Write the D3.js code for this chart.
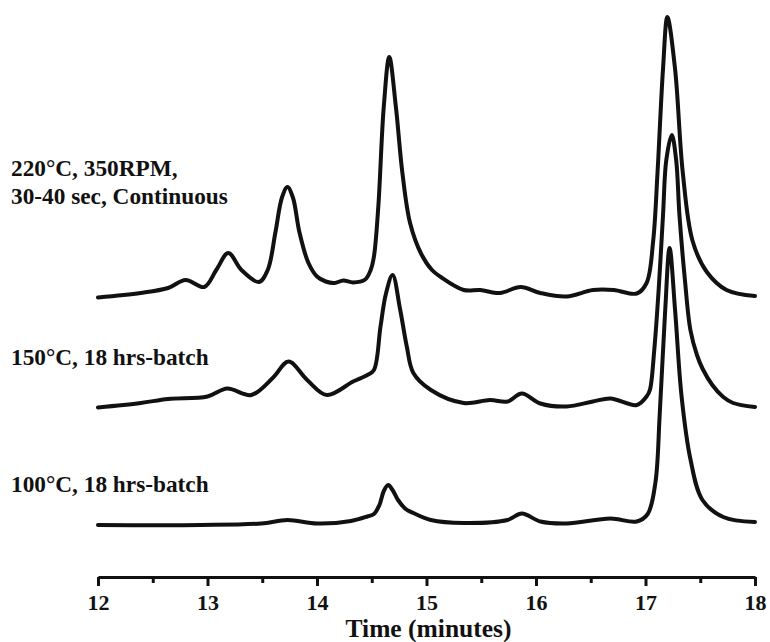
<!DOCTYPE html>
<html>
<head>
<meta charset="utf-8">
<script src="https://cdn.jsdelivr.net/npm/d3@7"></script>
<style>
  html, body { margin: 0; padding: 0; background: #fff; }
  svg { display: block; }
  text { font-family: "Liberation Serif", "Times New Roman", serif; font-weight: bold; fill: #111; }
</style>
</head>
<body>
<svg id="chart" width="770" height="642"></svg>
<script>
// Chromatogram traces, retention time (min) vs detector response (arbitrary units)
const timeTicks = [12, 13, 14, 15, 16, 17, 18];
const minorTicks = [12.5, 13.5, 14.5, 15.5, 16.5, 17.5];
const axisTitle = "Time (minutes)";

const sampleLabels = [
  ["220°C, 350RPM,", "30-40 sec, Continuous"],
  ["150°C, 18 hrs-batch"],
  ["100°C, 18 hrs-batch"]
];

// vertical stacking offset for each trace
const baselineOffsets = [55.9, 33.9, 10.4];

const continuous220 = [
  [12.00, 0], [12.39, 0.9], [12.64, 1.9], [12.80, 3.5], [12.97, 2.1],
  [13.08, 5.5], [13.19, 8.9], [13.31, 5.5], [13.47, 3.1], [13.55, 5.5],
  [13.62, 13], [13.68, 20], [13.73, 22.1], [13.78, 20], [13.84, 13],
  [13.92, 7], [14.00, 4.2], [14.08, 3.2], [14.16, 2.9], [14.24, 3.4],
  [14.33, 3.0], [14.44, 3.6], [14.49, 5.5], [14.52, 8.2], [14.56, 18.2],
  [14.61, 38.2], [14.66, 48.1], [14.72, 38.2], [14.78, 24.9], [14.85, 14.9],
  [14.95, 8.8], [15.05, 5.5], [15.13, 4.1], [15.34, 1.5], [15.49, 1.5],
  [15.67, 0.9], [15.86, 2.1], [16.04, 0.9], [16.28, 0.2], [16.52, 1.5],
  [16.71, 1.5], [16.92, 0.8], [17.01, 2.9], [17.07, 11.3], [17.11, 25.1],
  [17.16, 45.7], [17.20, 56.1], [17.27, 45.7], [17.34, 25.1], [17.43, 11.3],
  [17.56, 5.1], [17.74, 1.5], [18.00, 0.3]
];

const batch150 = [
  [12.00, 0], [12.39, 0.9], [12.64, 1.7], [13.00, 2.2], [13.18, 3.8],
  [13.40, 2.5], [13.60, 6.0], [13.74, 9.2], [13.91, 5.5], [14.09, 2.5],
  [14.33, 5.2], [14.46, 6.5], [14.52, 7.5], [14.58, 16.2], [14.63, 22.8],
  [14.69, 26.5], [14.76, 19.5], [14.82, 12.2], [14.88, 6.9], [15.04, 3.5],
  [15.34, 0.9], [15.58, 1.5], [15.74, 1.2], [15.87, 2.8], [16.04, 0.8],
  [16.28, 0.2], [16.52, 1.2], [16.68, 1.8], [16.92, 0.5], [17.01, 2.2],
  [17.04, 3.5], [17.08, 11.5], [17.12, 23.5], [17.16, 38.5], [17.19, 49.5],
  [17.24, 54.5], [17.28, 49.5], [17.31, 38.5], [17.36, 25.5], [17.41, 15.5],
  [17.47, 10.5], [17.52, 7.8], [17.61, 4.5], [17.71, 2.1], [17.80, 0.9],
  [18.00, 0.1]
];

const batch100 = [
  [12.00, 0], [12.94, 0], [13.49, 0.3], [13.73, 1.0], [14.00, 0.3],
  [14.31, 0.8], [14.46, 1.7], [14.52, 2.2], [14.57, 4.0], [14.61, 6.8],
  [14.65, 8.0], [14.69, 7.0], [14.74, 5.0], [14.81, 3.2], [14.88, 2.4],
  [15.04, 1.0], [15.34, 0.4], [15.74, 1.0], [15.87, 2.3], [16.04, 0.7],
  [16.28, 0.3], [16.68, 1.3], [16.92, 0.7], [17.02, 2.2], [17.09, 8.4],
  [17.13, 22.2], [17.18, 43], [17.22, 55.4], [17.27, 43], [17.33, 25.6],
  [17.41, 13.2], [17.52, 5.0], [17.71, 1.6], [18.00, 0.6]
];

const traces = [continuous220, batch150, batch100];

const svg = d3.select("#chart");

const x = d3.scaleLinear().domain([12, 18]).range([98, 755]);
const y = d3.scaleLinear().domain([0, 115]).range([577, 2]);

const line = d3.line()
  .x(d => x(d[0]))
  .y(d => y(d[1]))
  .curve(d3.curveCatmullRom.alpha(0.5));

// traces
svg.append("g")
  .selectAll("path")
  .data(traces)
  .join("path")
  .attr("d", (d, i) => line(d.map(p => [p[0], p[1] + baselineOffsets[i]])))
  .attr("fill", "none")
  .attr("stroke", "#111")
  .attr("stroke-width", 4)
  .attr("stroke-linejoin", "round")
  .attr("stroke-linecap", "round");

// sample labels
const labelBaselines = [[176, 204], [365], [492]];
sampleLabels.forEach((lines, i) => {
  lines.forEach((txt, j) => {
    svg.append("text")
      .attr("x", 11)
      .attr("y", labelBaselines[i][j])
      .attr("font-size", 23.3)
      .text(txt);
  });
});

// x axis
const axisY = y(0);
const axisG = svg.append("g")
  .attr("transform", `translate(0,${axisY})`)
  .call(d3.axisBottom(x).tickValues(timeTicks).tickFormat(d3.format("d"))
    .tickSize(9).tickSizeOuter(0).tickPadding(8));
axisG.select(".domain").attr("stroke", "#111").attr("stroke-width", 3);
axisG.selectAll(".tick line").attr("stroke", "#111").attr("stroke-width", 3);
axisG.selectAll(".tick text")
  .attr("font-size", 22)
  .attr("font-family", "Liberation Serif, Times New Roman, serif")
  .attr("font-weight", "bold")
  .attr("fill", "#111");

const minorG = svg.append("g")
  .attr("transform", `translate(0,${axisY})`)
  .call(d3.axisBottom(x).tickValues(minorTicks).tickSize(6).tickSizeOuter(0).tickFormat(""));
minorG.select(".domain").remove();
minorG.selectAll(".tick line").attr("stroke", "#111").attr("stroke-width", 3);

svg.append("text")
  .attr("x", (x(12) + x(18)) / 2 + 2)
  .attr("y", 637)
  .attr("text-anchor", "middle")
  .attr("font-size", 25.5)
  .text(axisTitle);
</script>
</body>
</html>
